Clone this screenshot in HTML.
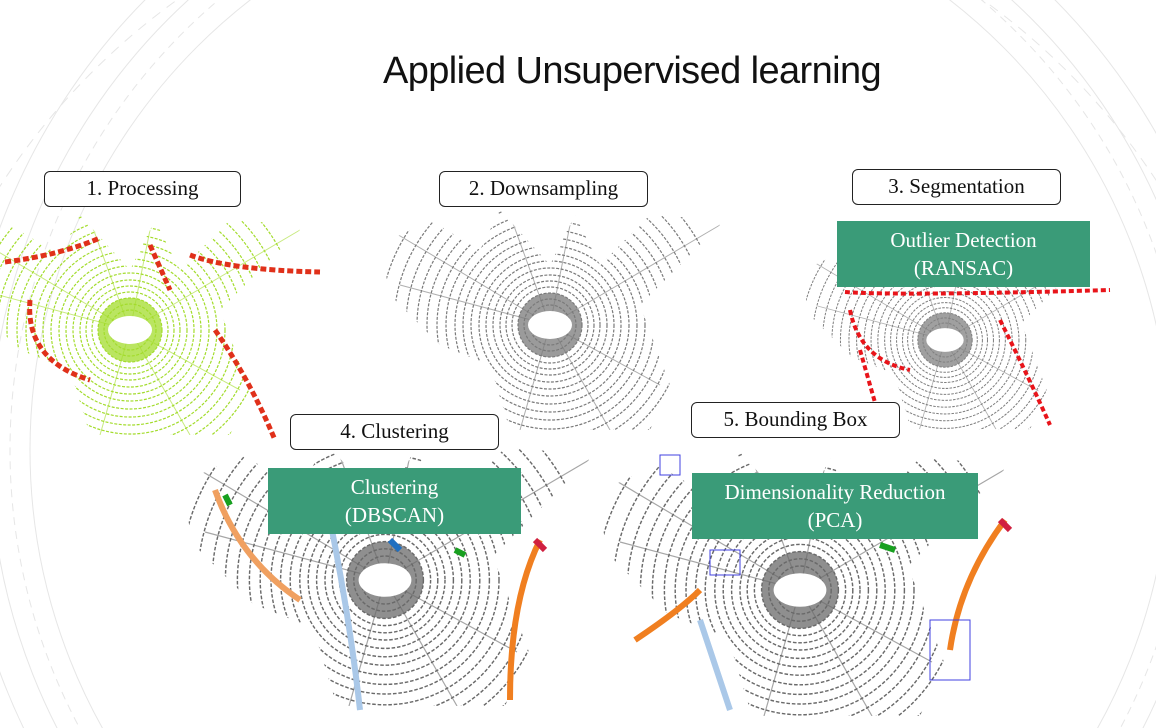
<!DOCTYPE html>
<html><head><meta charset="utf-8"><style>
html,body{margin:0;width:1156px;height:728px;overflow:hidden}
body{background:#fff;position:relative;font-family:"Liberation Serif",serif}
.t{position:absolute;left:100px;width:1064px;top:50px;text-align:center;font-family:"Liberation Sans",sans-serif;font-size:38px;color:#111;letter-spacing:-0.6px}
.b{position:absolute;border:1.5px solid #222;border-radius:6px;background:#fff;text-align:center;font-size:21px;color:#111;box-sizing:border-box;line-height:33px}
.g{position:absolute;background:#3a9b78;color:#fff;text-align:center;font-size:21px;line-height:28px;box-sizing:border-box;padding-top:5px}
svg{position:absolute;left:0;top:0;display:block}
</style></head><body>
<svg width="1156" height="728">
<defs>
<clipPath id="cp"><polygon points="-170,-80 -120,-105 -70,-75 -50,-115 0,-60 25,-110 50,-60 100,-110 175,-105 90,-20 120,60 100,105 -40,105 -60,40 -110,20 -160,-30"/></clipPath>
<g id="cl">
<g clip-path="url(#cp)" fill="none" stroke="currentColor" stroke-width="1.2" stroke-dasharray="3 1.5">
<circle r="20"/><circle r="26"/><circle r="32"/><circle r="38"/><circle r="44"/><circle r="50"/><circle r="57"/><circle r="64"/><circle r="71"/><circle r="79"/><circle r="87"/><circle r="95"/><circle r="104"/><circle r="113"/><circle r="123"/><circle r="133"/><circle r="144"/><circle r="156"/><circle r="170"/>
<path d="M0,0 L-160,-95 M0,0 L-40,-110 M0,0 L20,-100 M0,0 L170,-100 M0,0 L110,60 M0,0 L-30,105 M0,0 L60,105 M0,0 L-150,-40" stroke-width="1" stroke-dasharray="none" opacity="0.6"/>
</g>
<circle r="32" fill="currentColor" opacity="0.75"/>
<ellipse rx="22" ry="14" fill="#fff"/>
</g>
</defs>
<g fill="none" stroke="#e6e6e6" stroke-width="1">
<circle cx="600" cy="450" r="570"/><circle cx="600" cy="450" r="590" stroke-dasharray="8 6"/>
<circle cx="600" cy="450" r="610"/><circle cx="600" cy="450" r="640"/>
<circle cx="580" cy="560" r="690" stroke-dasharray="10 8"/>
</g>
<use href="#cl" transform="translate(130,330)" style="color:#a3dc2c"/>
<g fill="none" stroke="#e0301a" stroke-width="5" stroke-dasharray="6 3">
<path d="M5,262 Q60,255 100,238"/><path d="M30,300 Q25,360 90,380"/><path d="M190,255 Q230,270 320,272"/><path d="M215,330 Q250,380 275,440"/><path d="M150,245 L170,290"/></g>
<use href="#cl" transform="translate(550,325)" style="color:#7a7a7a"/>
<use href="#cl" transform="translate(945,340) scale(0.85)" style="color:#808080"/>
<g fill="none" stroke="#e8141a" stroke-width="4" stroke-dasharray="5 3">
<path d="M845,292 Q900,296 1110,290"/><path d="M850,310 Q860,360 910,370"/><path d="M1000,320 Q1030,380 1050,425"/><path d="M860,350 L880,420"/></g>
<use href="#cl" transform="translate(385,580) scale(1.2)" style="color:#6a6a6a"/>
<g fill="none" stroke-width="6">
<path d="M215,490 Q240,560 300,600" stroke="#f0a060"/><path d="M540,540 Q510,600 510,700" stroke="#f07f20"/>
<path d="M330,520 Q350,620 360,710" stroke="#aac8e8"/><path d="M390,540 L400,550" stroke="#1f6fc0"/>
<path d="M225,495 L230,505" stroke="#18a020"/><path d="M455,550 L465,555" stroke="#18a020"/><path d="M535,540 L545,550" stroke="#d02040"/></g>
<use href="#cl" transform="translate(800,590) scale(1.2)" style="color:#6a6a6a"/>
<g fill="none" stroke-width="6">
<path d="M1005,520 Q960,580 950,650" stroke="#f07f20"/><path d="M635,640 Q680,610 700,590" stroke="#f07f20"/>
<path d="M700,620 Q720,680 730,710" stroke="#aac8e8"/><path d="M880,545 L895,550" stroke="#18a020"/><path d="M1000,520 L1010,530" stroke="#d02040"/></g>
<g fill="none" stroke="#4040e0" stroke-width="1"><rect x="930" y="620" width="40" height="60"/><rect x="710" y="550" width="30" height="25"/><rect x="660" y="455" width="20" height="20"/></g>
</svg>
<div class="t">Applied Unsupervised learning</div>
<div class="b" style="left:44px;top:171px;width:197px;height:36px">1. Processing</div>
<div class="b" style="left:439px;top:171px;width:209px;height:36px">2. Downsampling</div>
<div class="b" style="left:852px;top:169px;width:209px;height:36px">3. Segmentation</div>
<div class="b" style="left:290px;top:414px;width:209px;height:36px">4. Clustering</div>
<div class="b" style="left:691px;top:402px;width:209px;height:36px">5. Bounding Box</div>
<div class="g" style="left:837px;top:221px;width:253px;height:66px">Outlier Detection<br>(RANSAC)</div>
<div class="g" style="left:268px;top:468px;width:253px;height:66px">Clustering<br>(DBSCAN)</div>
<div class="g" style="left:692px;top:473px;width:286px;height:66px">Dimensionality Reduction<br>(PCA)</div>
</body></html>
